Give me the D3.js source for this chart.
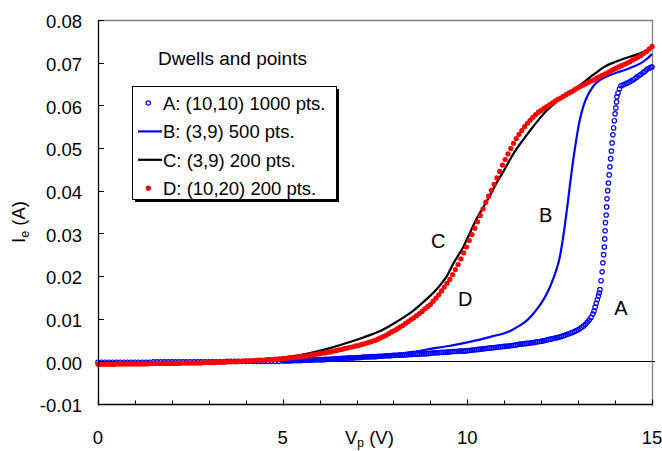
<!DOCTYPE html>
<html><head><meta charset="utf-8">
<script src="https://cdn.jsdelivr.net/npm/d3@7"></script>
<style>
body{margin:0;background:#fff}
text{font-family:"Liberation Sans",Arial,Helvetica,sans-serif;fill:#000}
</style>
</head><body>
<svg id="chart" width="662" height="451"></svg>
<script>
// ---------- data ----------
const voltTicks = [0, 5, 10, 15];
const minorVoltTicks = [1, 2, 3, 4, 6, 7, 8, 9, 11, 12, 13, 14];
const currentTicks = [-0.01, 0, 0.01, 0.02, 0.03, 0.04, 0.05, 0.06, 0.07, 0.08];
const legendTitle = "Dwells and points";
const legendLabels = ["A: (10,10) 1000 pts.", "B: (3,9) 500 pts.", "C: (3,9) 200 pts.", "D: (10,20) 200 pts."];
const curveNames = ["A", "B", "C", "D"];
const curveLabelV = [14.16, 12.12, 9.21, 9.94];
const curveLabelI = [0.0125, 0.0343, 0.0282, 0.0146];

// A: (10,10) 1000 pts  [V, I]
const seriesA = [
[0,-.0002],[.1,-.0002],[.2,-.0002],[.3,-.0002],[.4,-.0002],[.5,-.0002],[.6,-.0002],[.7,-.0002],[.8,-.0002],[.9,-.0002],
[1,-.0002],[1.1,-.0002],[1.2,-.0002],[1.3,-.0002],[1.4,-.0002],[1.5,-.0001],[1.6,-.0001],[1.7,-.0001],[1.8,-.0001],[1.9,-.0001],
[2,-.0001],[2.1,-.0001],[2.2,-.0001],[2.3,-.0001],[2.4,-.0001],[2.5,-.0001],[2.6,-.0001],[2.7,-.0001],[2.8,-.0001],[2.9,-.0001],
[3,-.0001],[3.1,-.0001],[3.2,-.0001],[3.3,-.0001],[3.4,-.0001],[3.5,0],[3.6,0],[3.7,0],[3.8,0],[3.9,0],
[4,0],[4.1,0],[4.2,0],[4.3,0],[4.4,0],[4.5,0],[4.6,0],[4.7,0],[4.8,0],[4.9,0],
[5,.0001],[5.05,.0001],[5.1,.0001],[5.15,.0001],[5.2,.0001],[5.25,.00015],[5.3,.0002],[5.35,.0002],[5.4,.0002],[5.45,.0002],
[5.5,.0002],[5.55,.00025],[5.6,.0003],[5.65,.0003],[5.7,.0003],[5.75,.0003],[5.8,.0003],[5.85,.00035],[5.9,.0004],[5.95,.0004],
[6,.0004],[6.05,.0004],[6.1,.0004],[6.15,.00045],[6.2,.0005],[6.25,.0005],[6.3,.0005],[6.35,.00055],[6.4,.0006],[6.45,.0006],
[6.5,.0006],[6.55,.00065],[6.6,.0007],[6.65,.0007],[6.7,.0007],[6.75,.00075],[6.8,.0008],[6.85,.0008],[6.9,.0008],[6.95,.00085],
[7,.0009],[7.05,.0009],[7.1,.0009],[7.15,.00095],[7.2,.001],[7.25,.001],[7.3,.001],[7.35,.00105],[7.4,.0011],[7.45,.0011],
[7.5,.0011],[7.55,.00115],[7.6,.0012],[7.65,.0012],[7.7,.0012],[7.75,.00125],[7.8,.0013],[7.85,.0013],[7.9,.0013],[7.95,.00135],
[8,.0014],[8.05,.0014],[8.1,.0014],[8.15,.00145],[8.2,.0015],[8.25,.0015],[8.3,.0015],[8.35,.00155],[8.4,.0016],[8.45,.0016],
[8.5,.0016],[8.55,.00165],[8.6,.0017],[8.65,.0017],[8.7,.0017],[8.75,.00175],[8.8,.0018],[8.85,.0018],[8.9,.0018],[8.95,.00185],
[9,.0019],[9.05,.00195],[9.1,.002],[9.15,.002],[9.2,.002],[9.25,.00205],[9.3,.0021],[9.35,.0021],[9.4,.0021],[9.45,.00215],
[9.5,.0022],[9.55,.00225],[9.6,.0023],[9.65,.0023],[9.7,.0023],[9.75,.00235],[9.8,.0024],[9.85,.0024],[9.9,.0024],[9.95,.00245],
[10,.0025],[10.05,.00255],[10.1,.0026],[10.15,.00265],[10.2,.0027],[10.25,.00275],[10.3,.0028],[10.35,.00285],[10.4,.0029],[10.45,.00295],
[10.5,.003],[10.55,.00305],[10.6,.0031],[10.65,.00315],[10.7,.0032],[10.75,.00325],[10.8,.0033],[10.85,.00335],[10.9,.0034],[10.95,.00345],
[11,.0035],[11.05,.00355],[11.1,.0036],[11.15,.00365],[11.2,.0037],[11.25,.00375],[11.3,.0038],[11.35,.0039],[11.4,.004],[11.45,.00405],
[11.5,.0041],[11.55,.00415],[11.6,.0042],[11.65,.00425],[11.7,.0043],[11.75,.00435],[11.8,.0044],[11.85,.0045],[11.9,.0046],[11.95,.00465],
[12,.0047],[12.05,.0048],[12.1,.0049],[12.15,.005],[12.2,.0051],[12.25,.0052],[12.3,.0053],[12.35,.0054],[12.4,.0055],[12.45,.0056],
[12.5,.0057],[12.55,.00585],[12.6,.006],[12.65,.00615],[12.7,.0063],[12.75,.00645],[12.8,.0066],[12.85,.0068],[12.9,.007],[12.95,.0072],
[13,.0074],[13.05,.0077],[13.1,.008],[13.15,.0083],[13.2,.0087],[13.25,.0092],[13.3,.0097],[13.35,.0103],[13.4,.0111],[13.43,.0118],
[13.46,.0127],[13.49,.0136],[13.52,.0145],[13.55,.0153],[13.57,.016],[13.59,.0168],[13.62,.0189],[13.65,.021],[13.67,.0231],[13.69,.025],
[13.71,.0268],[13.72,.0287],[13.73,.0306],[13.74,.0325],[13.76,.0343],[13.77,.0362],[13.78,.0381],[13.8,.04],[13.82,.0418],[13.84,.0437],
[13.86,.0456],[13.88,.0475],[13.9,.0493],[13.92,.0512],[13.94,.0531],[13.96,.0547],[13.98,.0564],[14,.058],[14.02,.0594],[14.04,.0608],
[14.05,.062],[14.08,.0629],[14.12,.0639],[14.16,.0646],[14.22,.0648],[14.27,.065],[14.32,.0652],[14.38,.0654],[14.43,.0657],[14.49,.066],
[14.54,.0663],[14.59,.0666],[14.65,.067],[14.7,.0673],[14.76,.0677],[14.81,.068],[14.86,.0684],[14.92,.0687],[14.97,.0689],[15,.069]
];

// B: (3,9) 500 pts  [V, I]
const seriesB = [
[0,-.0002],[1,-.0002],[2,-.0001],[3,-.0001],[4,0],[5,.0001],[5.83,.0003],[6.5,.0006],[7,.0009],[7.64,.0013],
[8.09,.0017],[8.5,.0022],[9,.0029],[9.5,.0036],[9.8,.0041],[10.34,.0051],[10.7,.0059],[11,.0066],[11.2,.0073],[11.4,.0083],
[11.6,.0095],[11.75,.0108],[11.9,.0124],[12.05,.0143],[12.2,.0167],[12.32,.0192],[12.42,.0217],[12.5,.0243],[12.58,.0283],[12.65,.0325],
[12.72,.0372],[12.8,.0428],[12.88,.048],[12.96,.0525],[13.05,.0568],[13.15,.06],[13.25,.0622],[13.35,.0637],[13.46,.065],[13.6,.066],
[13.8,.0669],[14.05,.0677],[14.3,.0684],[14.5,.0691],[14.7,.0699],[14.85,.0708],[15,.072]
];

// C: (3,9) 200 pts  [V, I]
const seriesC = [
[0,-.0006],[1,-.0005],[2,-.0004],[3,-.0002],[4,.0002],[4.5,.0005],[5,.0009],[5.5,.0015],[5.83,.0021],[6.28,.0031],
[6.73,.0043],[7.18,.0056],[7.64,.0071],[8.09,.0093],[8.54,.0119],[8.81,.0139],[9,.0154],[9.2,.0172],[9.44,.0199],[9.62,.0229],
[9.89,.0268],[10.07,.0301],[10.25,.0334],[10.52,.0374],[10.8,.0419],[10.97,.0444],[11.25,.0487],[11.5,.0518],[11.7,.0541],[11.9,.0563],
[12.15,.0588],[12.4,.0607],[12.6,.0621],[12.85,.0635],[13.14,.0653],[13.35,.0668],[13.5,.0677],[13.7,.069],[13.95,.07],[14.2,.0708],
[14.4,.0714],[14.68,.0722],[15,.0736]
];

// D: (10,20) 200 pts  [V, I]
const seriesD = [
[0,-.0007],[.075,-.0007],[.15,-.0007],[.225,-.0007],[.3,-.0007],[.375,-.0007],[.45,-.0007],[.525,-.0006],[.6,-.0006],[.675,-.0006],
[.75,-.0006],[.825,-.0006],[.9,-.0006],[.975,-.0006],[1.05,-.0006],[1.125,-.0006],[1.2,-.0006],[1.275,-.0006],[1.35,-.0006],[1.425,-.0005],
[1.5,-.0005],[1.575,-.0005],[1.65,-.0005],[1.725,-.0005],[1.8,-.0005],[1.875,-.0005],[1.95,-.0005],[2.025,-.0005],[2.1,-.0005],[2.175,-.0005],
[2.25,-.0004],[2.325,-.0004],[2.4,-.0004],[2.475,-.0004],[2.55,-.0004],[2.625,-.0004],[2.7,-.0004],[2.775,-.0004],[2.85,-.0003],[2.925,-.0003],
[3,-.0003],[3.075,-.0003],[3.15,-.0003],[3.225,-.0002],[3.3,-.0002],[3.375,-.0002],[3.45,-.0002],[3.525,-.0001],[3.6,-.0001],[3.675,-.0001],
[3.75,-.0001],[3.825,0],[3.9,0],[3.975,.0001],[4.05,.0001],[4.125,.0001],[4.2,.0002],[4.275,.0002],[4.35,.0003],[4.425,.0003],
[4.5,.0003],[4.575,.0004],[4.65,.0004],[4.725,.0004],[4.8,.0005],[4.875,.0005],[4.95,.0006],[5.025,.0006],[5.1,.0007],[5.175,.0008],
[5.25,.0009],[5.325,.0009],[5.4,.001],[5.475,.0011],[5.55,.0012],[5.625,.0012],[5.7,.0013],[5.775,.0015],[5.85,.0016],[5.925,.0017],
[6,.0018],[6.075,.0019],[6.15,.002],[6.225,.0021],[6.3,.0022],[6.375,.0024],[6.45,.0025],[6.525,.0027],[6.6,.0028],[6.675,.003],
[6.75,.0031],[6.825,.0033],[6.9,.0034],[6.975,.0036],[7.05,.0037],[7.125,.0039],[7.2,.0041],[7.275,.0043],[7.35,.0045],[7.425,.0047],
[7.5,.0049],[7.575,.0052],[7.65,.0055],[7.725,.0058],[7.8,.0061],[7.875,.0065],[7.95,.0069],[8.025,.0072],[8.1,.0076],[8.175,.008],
[8.25,.0084],[8.325,.0089],[8.4,.0093],[8.475,.0098],[8.55,.0102],[8.625,.0107],[8.7,.0112],[8.775,.0117],[8.85,.0123],[8.925,.0128],
[9,.0133],[9.075,.0141],[9.15,.0148],[9.225,.0156],[9.3,.0165],[9.375,.0174],[9.45,.0183],[9.525,.0192],[9.6,.0203],[9.675,.0215],
[9.75,.0227],[9.825,.024],[9.9,.0254],[9.975,.0268],[10.05,.0283],[10.125,.0297],[10.2,.0312],[10.275,.0327],[10.35,.0342],[10.425,.0357],
[10.5,.0373],[10.575,.0387],[10.65,.0401],[10.725,.0415],[10.8,.043],[10.875,.0445],[10.95,.046],[11.025,.0473],[11.1,.0486],[11.175,.0499],
[11.25,.0511],[11.325,.0522],[11.4,.0532],[11.475,.0541],[11.55,.055],[11.625,.0558],[11.7,.0565],[11.775,.0572],[11.85,.0578],[11.925,.0584],
[12,.0588],[12.075,.0593],[12.15,.0597],[12.225,.0601],[12.3,.0605],[12.375,.061],[12.45,.0614],[12.525,.0617],[12.6,.0621],[12.675,.0625],
[12.75,.0629],[12.825,.0632],[12.9,.0636],[12.975,.064],[13.05,.0644],[13.125,.0647],[13.2,.065],[13.275,.0654],[13.35,.0657],[13.425,.066],
[13.5,.0664],[13.575,.0667],[13.65,.067],[13.725,.0673],[13.8,.0677],[13.875,.068],[13.95,.0684],[14.025,.0687],[14.1,.069],[14.175,.0693],
[14.25,.0696],[14.325,.0699],[14.4,.0702],[14.475,.0706],[14.55,.071],[14.625,.0713],[14.7,.0717],[14.775,.0722],[14.85,.0726],[14.925,.0732],
[15,.0738]
];

// ---------- drawing ----------
const svg = d3.select("#chart");
const x = d3.scaleLinear().domain([0, 15]).range([98, 652]);
const y = d3.scaleLinear().domain([-0.01, 0.08]).range([404, 20]);
const BLUE = "#0000ff", RED = "#ff0000";
const FONT = 18.5;

// plot frame: top & right in gray
svg.append("line").attr("x1", x(0)).attr("x2", x(15) + 0.5).attr("y1", y(0.08) + 0.5).attr("y2", y(0.08) + 0.5)
  .attr("stroke", "#808080").attr("stroke-width", 1.3);
svg.append("line").attr("x1", x(15) + 0.5).attr("x2", x(15) + 0.5).attr("y1", y(0.08)).attr("y2", y(-0.01))
  .attr("stroke", "#808080").attr("stroke-width", 1.3);

// zero line
svg.append("line").attr("x1", x(0)).attr("x2", x(15) + 3).attr("y1", Math.round(y(0)) + 0.5).attr("y2", Math.round(y(0)) + 0.5)
  .attr("stroke", "#000").attr("stroke-width", 1);

// Series A: open circles
svg.append("g").selectAll("circle").data(seriesA).join("circle")
  .attr("cx", d => x(d[0])).attr("cy", d => y(d[1])).attr("r", 2.2)
  .attr("fill", "none").attr("stroke", BLUE).attr("stroke-width", 1.2);

// Series B, C: lines
const line = d3.line().x(d => x(d[0])).y(d => y(d[1])).curve(d3.curveCatmullRom.alpha(0.5));
svg.append("path").datum(seriesB).attr("d", line).attr("fill", "none").attr("stroke", BLUE).attr("stroke-width", 2.2);
svg.append("path").datum(seriesC).attr("d", line).attr("fill", "none").attr("stroke", "#000").attr("stroke-width", 2.2);

// Series D: filled red dots
svg.append("g").selectAll("circle").data(seriesD).join("circle")
  .attr("cx", d => x(d[0])).attr("cy", d => y(d[1])).attr("r", 2.6).attr("fill", RED);

// Axes
const axG = svg.append("g");
axG.append("line").attr("x1", x(0) + 0.5).attr("x2", x(0) + 0.5).attr("y1", y(0.08)).attr("y2", y(-0.01) + 1)
  .attr("stroke", "#000").attr("stroke-width", 1.3);
axG.append("line").attr("x1", x(0)).attr("x2", x(15) + 1).attr("y1", y(-0.01) + 0.5).attr("y2", y(-0.01) + 0.5)
  .attr("stroke", "#000").attr("stroke-width", 1.3);

// Y ticks (inward) and labels
axG.selectAll(".yt").data(currentTicks).join("line")
  .attr("x1", x(0)).attr("x2", x(0) + 6)
  .attr("y1", d => Math.round(y(d)) + 0.5).attr("y2", d => Math.round(y(d)) + 0.5)
  .attr("stroke", "#000").attr("stroke-width", 1);
axG.selectAll(".yl").data(currentTicks).join("text")
  .attr("x", 82).attr("y", d => y(d) + 8.4).attr("text-anchor", "end")
  .attr("font-size", FONT).text(d => d.toFixed(2));

// X ticks
axG.selectAll(".xmt").data(minorVoltTicks).join("line")
  .attr("x1", d => Math.round(x(d)) + 0.5).attr("x2", d => Math.round(x(d)) + 0.5)
  .attr("y1", y(-0.01)).attr("y2", y(-0.01) - 3.5)
  .attr("stroke", "#000").attr("stroke-width", 1);
axG.selectAll(".xMt").data(voltTicks).join("line")
  .attr("x1", d => Math.round(x(d)) + 0.5).attr("x2", d => Math.round(x(d)) + 0.5)
  .attr("y1", y(-0.01) + 1.5).attr("y2", y(-0.01) - 4.5)
  .attr("stroke", "#000").attr("stroke-width", 1.2);
axG.selectAll(".xl").data(voltTicks).join("text")
  .attr("x", d => x(d)).attr("y", 443.5).attr("text-anchor", "middle")
  .attr("font-size", FONT).text(d => d);

// Axis titles
const xt = svg.append("text").attr("x", 345).attr("y", 444).attr("font-size", FONT);
xt.append("tspan").text("V");
xt.append("tspan").attr("font-size", 12).attr("dy", 2.5).text("p");
xt.append("tspan").attr("dy", -2.5).text(" (V)");

const yt = svg.append("text").attr("transform", "translate(25,243) rotate(-90)").attr("font-size", FONT);
yt.append("tspan").text("I");
yt.append("tspan").attr("font-size", 12.5).attr("dy", 4).text("e");
yt.append("tspan").attr("dy", -4).text(" (A)");

// Curve labels
svg.append("g").selectAll("text").data(curveNames).join("text")
  .attr("x", (d, i) => x(curveLabelV[i])).attr("y", (d, i) => y(curveLabelI[i]))
  .attr("dy", "0.36em").attr("text-anchor", "middle").attr("font-size", 20).text(d => d);

// Legend
svg.append("text").attr("x", 158).attr("y", 65).attr("font-size", 19).text(legendTitle);
const lg = svg.append("g");
lg.append("rect").attr("x", 135).attr("y", 89).attr("width", 204).attr("height", 113).attr("fill", "#000");
lg.append("rect").attr("x", 132.5).attr("y", 86.5).attr("width", 204).attr("height", 113)
  .attr("fill", "#fff").attr("stroke", "#000").attr("stroke-width", 1);
const rowY = i => 103 + i * 28.4;
lg.selectAll(".lt").data(legendLabels).join("text")
  .attr("x", 163).attr("y", (d, i) => rowY(i) + 6.8).attr("font-size", FONT).text(d => d);
lg.append("circle").attr("cx", 148.3).attr("cy", rowY(0)).attr("r", 2.2)
  .attr("fill", "none").attr("stroke", BLUE).attr("stroke-width", 1.2);
lg.append("line").attr("x1", 138).attr("x2", 162).attr("y1", rowY(1)).attr("y2", rowY(1))
  .attr("stroke", BLUE).attr("stroke-width", 2.2);
lg.append("line").attr("x1", 138).attr("x2", 162).attr("y1", rowY(2)).attr("y2", rowY(2))
  .attr("stroke", "#000").attr("stroke-width", 2.2);
lg.append("circle").attr("cx", 148.3).attr("cy", rowY(3)).attr("r", 2.6).attr("fill", RED);
</script>
</body></html>
